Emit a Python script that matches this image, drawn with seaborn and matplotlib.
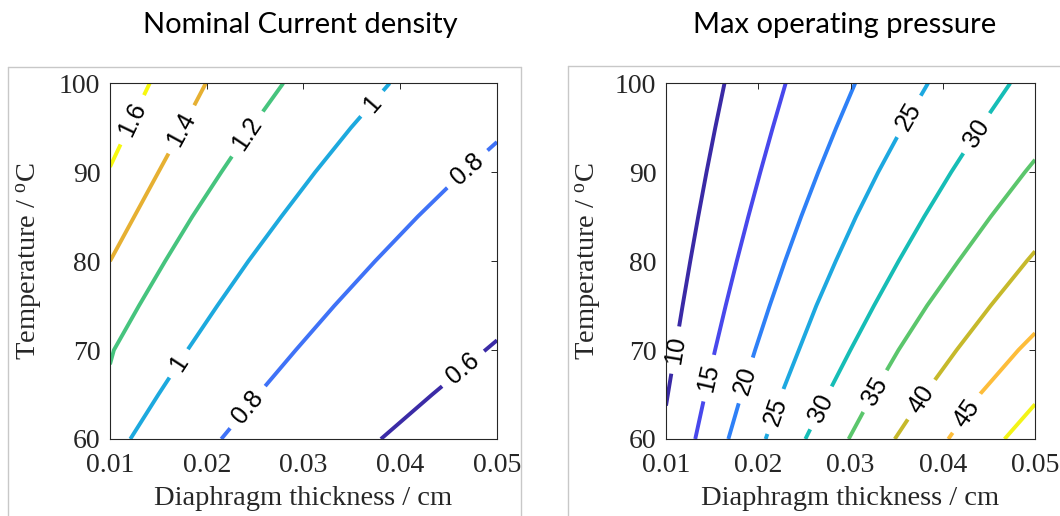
import math

import matplotlib
matplotlib.use("Agg")
import matplotlib.pyplot as plt
from matplotlib.lines import Line2D
import pandas as pd
import seaborn as sns

# ---------------------------------------------------------------------------
# Contour lines: (diaphragm thickness [cm], temperature [degC]) per level
# ---------------------------------------------------------------------------
THICKNESS_TICKS = [0.01, 0.02, 0.03, 0.04, 0.05]
THICKNESS_TICK_LABELS = ["0.01", "0.02", "0.03", "0.04", "0.05"]
TEMP_TICKS = [60, 70, 80, 90, 100]
TEMP_TICK_LABELS = ["60", "70", "80", "90", "100"]

# Nominal current density levels
CD_LEVELS = [0.6, 0.8, 1.0, 1.2, 1.4, 1.6]
cd06_x = [0.0380, 0.0433, 0.0488, 0.0500]
cd06_t = [60.0, 65.0, 70.0, 71.1]
cd08_x = [0.0215, 0.0253, 0.0292, 0.0332, 0.0374, 0.0418, 0.0465, 0.0500]
cd08_t = [60.0, 65.0, 70.0, 75.0, 80.0, 85.0, 90.0, 93.4]
cd10_x = [0.0121, 0.0150, 0.0180, 0.0211, 0.0243, 0.0277, 0.0312, 0.0349, 0.0389]
cd10_t = [60.0, 65.0, 70.0, 75.0, 80.0, 85.0, 90.0, 95.0, 100.0]
cd12_x = [0.0100, 0.0104, 0.0130, 0.0157, 0.0185, 0.0215, 0.0246, 0.0279]
cd12_t = [68.4, 70.0, 75.0, 80.0, 85.0, 90.0, 95.0, 100.0]
cd14_x = [0.0100, 0.0125, 0.0150, 0.0175, 0.0199]
cd14_t = [80.0, 85.0, 90.0, 95.0, 100.0]
cd16_x = [0.0100, 0.0119, 0.0141]
cd16_t = [90.6, 95.0, 100.0]

cd_label_level = [1.6, 1.4, 1.2, 1.0, 1.0, 0.8, 0.8, 0.6]
cd_label_x = [0.0123, 0.0174, 0.0242, 0.0171, 0.0371, 0.0242, 0.0469, 0.0465]
cd_label_t = [95.9, 94.8, 94.3, 68.5, 97.7, 63.6, 90.4, 67.9]

# Maximum operating pressure levels
P_LEVELS = [10, 15, 20, 25, 30, 35, 40, 45, 50]
p10_x = [0.0100, 0.0102, 0.0110, 0.0118, 0.01263, 0.01349, 0.01439, 0.01534, 0.01634]
p10_t = [63.75, 65.0, 70.0, 75.0, 80.0, 85.0, 90.0, 95.0, 100.0]
p15_x = [0.01317, 0.01422, 0.01532, 0.01647, 0.01767, 0.01892, 0.02022, 0.02157, 0.02297]
p15_t = [60.0, 65.0, 70.0, 75.0, 80.0, 85.0, 90.0, 95.0, 100.0]
p20_x = [0.01676, 0.01816, 0.01966, 0.02124, 0.0229, 0.02465, 0.0265, 0.02845, 0.0305]
p20_t = [60.0, 65.0, 70.0, 75.0, 80.0, 85.0, 90.0, 95.0, 100.0]
p25_x = [0.0208, 0.0225, 0.0244, 0.0263, 0.0284, 0.0306, 0.0330, 0.0356, 0.0384]
p25_t = [60.0, 65.0, 70.0, 75.0, 80.0, 85.0, 90.0, 95.0, 100.0]
p30_x = [0.02511, 0.02751, 0.02999, 0.03255, 0.03521, 0.03799, 0.04091, 0.04401, 0.04731]
p30_t = [60.0, 65.0, 70.0, 75.0, 80.0, 85.0, 90.0, 95.0, 100.0]
p35_x = [0.0298, 0.0324, 0.0352, 0.0383, 0.0417, 0.0452, 0.0489, 0.0500]
p35_t = [60.0, 65.0, 70.0, 75.0, 80.0, 85.0, 90.0, 91.4]
p40_x = [0.0348, 0.0380, 0.0415, 0.0452, 0.0491, 0.0500]
p40_t = [60.0, 65.0, 70.0, 75.0, 80.0, 81.1]
p45_x = [0.0406, 0.0440, 0.0482, 0.0500]
p45_t = [60.0, 65.0, 70.0, 71.9]
p50_x = [0.0467, 0.0500]
p50_t = [60.0, 63.9]

p_label_level = [10, 15, 20, 25, 25, 30, 30, 35, 40, 45]
p_label_x = [0.01100, 0.0146, 0.0186, 0.02185, 0.0363, 0.0268, 0.04364,
             0.03262, 0.03765, 0.04257]
p_label_t = [70.0, 66.85, 66.6, 63.1, 96.3, 63.5, 94.4, 65.4, 64.45, 62.9]

# ---------------------------------------------------------------------------
# Styling
# ---------------------------------------------------------------------------
CD_COLORS = {0.6: "#3B2BA6", 0.8: "#3F72F7", 1.0: "#1DA9DE", 1.2: "#46C47E",
             1.4: "#E6B032", 1.6: "#F7F80E"}
P_COLORS = {10: "#3A2AA6", 15: "#4848EC", 20: "#2E80F7", 25: "#1DA8E0",
            30: "#16BDB6", 35: "#5BC66C", 40: "#C6B92B", 45: "#FDBD3A",
            50: "#F3F416"}

AXIS_GRAY = "#262626"
SERIF = "Liberation Serif"
SANS = "Liberation Sans"
TICK_SIZE = 20
LABEL_SIZE = 20.5
CLABEL_SIZE = 18

sns.set_style("white")
plt.rcParams["font.family"] = [SERIF, "DejaVu Serif"]
plt.rcParams["mathtext.fontset"] = "custom"
plt.rcParams["mathtext.rm"] = SERIF
plt.rcParams["mathtext.it"] = SERIF + ":italic"

W, H = 1060, 516
fig = plt.figure(figsize=(W / 100, H / 100), dpi=100)
fig.patch.set_facecolor("white")


def frac_rect(x0, x1, y_top, y_bot):
    return [x0 / W, 1 - y_bot / H, (x1 - x0) / W, (y_bot - y_top) / H]


ax_cd = fig.add_axes(frac_rect(110, 497, 83.3, 439))
ax_p = fig.add_axes(frac_rect(666, 1035, 83.3, 439))


def lines_frame(levels, xs, ts):
    rows = []
    for lvl, x_vals, t_vals in zip(levels, xs, ts):
        for order, (x, t) in enumerate(zip(x_vals, t_vals)):
            rows.append({"level": lvl, "order": order,
                         "thickness": x, "temperature": t})
    return pd.DataFrame(rows)


def draw_panel(ax, df, colors, label_levels, label_x, label_t):
    sns.lineplot(data=df, x="thickness", y="temperature", hue="level",
                 units="level", estimator=None, sort=False, palette=colors,
                 linewidth=2.8, legend=False, ax=ax, zorder=2)
    ax.set_xlim(THICKNESS_TICKS[0], THICKNESS_TICKS[-1])
    ax.set_ylim(TEMP_TICKS[0], TEMP_TICKS[-1])
    for ln in ax.get_lines():
        ln.set_solid_joinstyle("round")
        ln.set_solid_capstyle("butt")

    # inline contour labels, rotated along the local line direction
    for lvl, lx, lt in zip(label_levels, label_x, label_t):
        seg = df[df["level"] == lvl].sort_values("order")
        xs = seg["thickness"].to_list()
        ts = seg["temperature"].to_list()
        i = 0
        while i < len(xs) - 2 and xs[i + 1] < lx:
            i += 1
        p1 = ax.transData.transform((xs[i], ts[i]))
        p2 = ax.transData.transform((xs[i + 1], ts[i + 1]))
        angle = math.degrees(math.atan2(p2[1] - p1[1], p2[0] - p1[0]))
        ax.text(lx, lt, f"{lvl:g}", rotation=angle, rotation_mode="anchor",
                ha="center", va="center", fontsize=CLABEL_SIZE, family=SANS,
                color="black", zorder=2.2,
                bbox=dict(boxstyle="square,pad=0.4", fc="white", ec="none"))

    ax.set_xticks(THICKNESS_TICKS)
    ax.set_xticklabels(THICKNESS_TICK_LABELS)
    ax.set_yticks(TEMP_TICKS)
    ax.set_yticklabels(TEMP_TICK_LABELS)
    ax.tick_params(direction="in", length=4.5, width=0.7, colors=AXIS_GRAY,
                   labelsize=TICK_SIZE, top=True, right=True)
    ax.tick_params(axis="x", pad=10)
    ax.tick_params(axis="y", pad=7)
    for sp in ax.spines.values():
        sp.set_visible(True)
        sp.set_color(AXIS_GRAY)
        sp.set_linewidth(0.8)
        sp.set_zorder(3)
    ax.set_axisbelow(False)
    ax.set_xlabel("Diaphragm thickness / cm", fontsize=LABEL_SIZE,
                  color=AXIS_GRAY)
    ax.set_ylabel(r"Temperature / $^{\mathrm{o}}$C", fontsize=LABEL_SIZE,
                  color=AXIS_GRAY)
    ax.xaxis.set_label_coords(0.5, -0.133)
    ax.yaxis.set_label_coords(-0.167, 0.5)


cd_df = lines_frame(CD_LEVELS,
                    [cd06_x, cd08_x, cd10_x, cd12_x, cd14_x, cd16_x],
                    [cd06_t, cd08_t, cd10_t, cd12_t, cd14_t, cd16_t])
p_df = lines_frame(P_LEVELS,
                   [p10_x, p15_x, p20_x, p25_x, p30_x, p35_x, p40_x, p45_x, p50_x],
                   [p10_t, p15_t, p20_t, p25_t, p30_t, p35_t, p40_t, p45_t, p50_t])

draw_panel(ax_cd, cd_df, CD_COLORS, cd_label_level, cd_label_x, cd_label_t)
draw_panel(ax_p, p_df, P_COLORS, p_label_level, p_label_x, p_label_t)

# light frames around each panel
FRAME = "#C8C8C8"


def fig_line(x0, y0, x1, y1):
    fig.add_artist(Line2D([x0 / W, x1 / W], [1 - y0 / H, 1 - y1 / H],
                          transform=fig.transFigure, color=FRAME, lw=1.0))


fig_line(8, 67, 521, 67)
fig_line(8, 67, 8, H)
fig_line(521, 67, 521, H)
fig_line(568, 66, W, 66)
fig_line(568, 66, 568, H)

# panel titles
TITLE_FONT = ["Lato", "DejaVu Sans"]
fig.text(300 / W, 1 - 33 / H, "Nominal Current density", ha="center",
         va="baseline", fontsize=21, family=TITLE_FONT, color="black")
fig.text(845 / W, 1 - 33 / H, "Max operating pressure", ha="center",
         va="baseline", fontsize=21, family=TITLE_FONT, color="black")

fig.savefig("out.png", dpi=100, facecolor="white")
